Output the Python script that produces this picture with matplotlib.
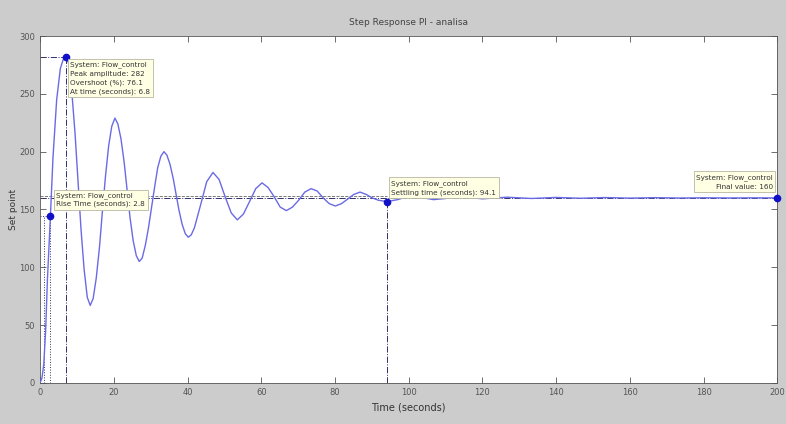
import matplotlib
matplotlib.use("Agg")
import matplotlib.pyplot as plt

# step response (time in s, output value)
t_vals = [0, 0.5, 1.0, 1.5, 2.0, 2.8, 3.5, 4.5, 5.5, 6.3, 7.0,
          7.8, 8.65, 9.5, 10.3, 11.1, 11.95, 12.8, 13.6,
          14.4, 15.25, 16.1, 16.9, 17.75, 18.6, 19.45, 20.3,
          21.1, 21.95, 22.8, 23.6, 24.4, 25.25, 26.1, 26.9,
          27.7, 28.55, 29.4, 30.25, 31.1, 31.9, 32.75, 33.6,
          34.4, 35.25, 36.1, 36.9, 37.7, 38.55, 39.4, 40.2,
          41.0, 41.85, 43.55, 45.2, 46.9,
          48.55, 50.2, 51.85, 53.5, 55.15, 56.85, 58.5, 60.2,
          61.85, 63.5, 65.15, 66.8, 68.45, 70.15, 71.8, 73.5,
          75.15, 76.8, 78.45, 80.1, 81.75, 83.45, 85.1, 86.8,
          88.45, 90.1, 91.75, 94.1, 97.0, 100.0, 103.3, 106.7,
          110.0, 113.3, 116.6, 120.0, 126.6, 133.3, 140.0, 146.6,
          153.3, 160.0, 166.6, 173.3, 180.0, 186.6, 193.3, 200.0]
y_vals = [0, 4, 16, 45, 90, 144, 195, 245, 272, 280, 282,
          276, 250, 215, 174, 133, 98, 74, 67,
          73, 91, 117, 148, 179, 205, 222, 229,
          224, 211, 191, 167, 143, 123, 110, 105,
          108, 119, 134, 152, 170, 186, 196, 200,
          197, 189, 177, 163, 149, 137, 129, 126,
          128, 134, 154, 174, 182,
          176, 161, 147, 141, 146, 157, 168, 173,
          169, 161, 152, 149, 152, 158, 165, 168,
          166, 160, 155, 153, 155, 159, 163, 165,
          163, 160, 158, 156.8, 158.5, 161.5, 160.5, 158.5,
          159.5, 161, 160.3, 159.2, 160.6, 159.5, 160.4, 159.7,
          160.3, 159.8, 160.2, 159.9, 160.1, 159.95, 160.05, 160]

# step response characteristics
peak_t, peak_y = 7.0, 282
rise_t, rise_y = 2.8, 144
rise_start_t = 1.0
settle_t, settle_y = 94.1, 156.8
final_t, final_y = 200, 160

x_ticks = [0, 20, 40, 60, 80, 100, 120, 140, 160, 180, 200]
y_ticks = [0, 50, 100, 150, 200, 250, 300]

fig = plt.figure(figsize=(7.86, 4.24), dpi=100, facecolor="#cccccc")
ax = fig.add_axes([0.051, 0.097, 0.938, 0.818])
ax.set_facecolor("white")

line_c = "#6a6ae6"
ref_c = "#30306a"
ax.plot(t_vals, y_vals, color=line_c, lw=1.0, zorder=3)

# characteristic guide lines
ax.plot([0, 200], [final_y, final_y], color=ref_c, lw=0.7, ls="-.", zorder=2)
ax.plot([0, settle_t], [final_y + 2, final_y + 2], color="#666666", lw=0.6, ls="--", zorder=2)
ax.plot([0, peak_t], [peak_y, peak_y], color=ref_c, lw=0.7, ls="-.", zorder=2)
ax.plot([peak_t, peak_t], [0, peak_y], color=ref_c, lw=0.7, ls="-.", zorder=2)
ax.plot([rise_t, rise_t], [0, rise_y], color=ref_c, lw=0.7, ls=":", zorder=2)
ax.plot([rise_start_t, rise_start_t], [0, rise_y], color=ref_c, lw=0.7, ls=":", zorder=2)
ax.plot([0, rise_t], [rise_y, rise_y], color=ref_c, lw=0.7, ls=":", zorder=2)
ax.plot([settle_t, settle_t], [0, settle_y], color=ref_c, lw=0.7, ls="-.", zorder=2)

ax.plot([peak_t, rise_t, settle_t, final_t], [peak_y, rise_y, settle_y, final_y],
        "o", color="#1010c8", ms=4.5, zorder=5, clip_on=False)

box = dict(boxstyle="square,pad=0.35", fc="#ffffe4", ec="#b8b8a0", lw=0.6)
tip_fs = 5.2
ax.text(peak_t + 1.2, peak_y - 4,
        "System: Flow_control\nPeak amplitude: 282\nOvershoot (%): 76.1\nAt time (seconds): 6.8",
        fontsize=tip_fs, va="top", ha="left", bbox=box, color="#333333",
        linespacing=1.5, zorder=6)
ax.text(rise_t + 1.6, rise_y + 8,
        "System: Flow_control\nRise Time (seconds): 2.8",
        fontsize=tip_fs, va="bottom", ha="left", bbox=box, color="#333333",
        linespacing=1.3, zorder=6)
ax.text(settle_t + 1.2, settle_y + 5,
        "System: Flow_control\nSettling time (seconds): 94.1",
        fontsize=tip_fs, va="bottom", ha="left", bbox=box, color="#333333",
        linespacing=1.5, zorder=6)
ax.text(final_t - 1.2, final_y + 7,
        "System: Flow_control\nFinal value: 160",
        fontsize=tip_fs, va="bottom", ha="right", bbox=box, color="#333333",
        linespacing=1.5, zorder=6)

ax.set_xlim(0, 200)
ax.set_ylim(0, 300)
ax.set_xticks(x_ticks)
ax.set_yticks(y_ticks)
ax.tick_params(direction="in", top=True, right=True, labelsize=6,
               labelcolor="#555555", color="#555555", length=4, width=0.6)
for s in ax.spines.values():
    s.set_color("#555555")
    s.set_linewidth(0.6)

ax.set_title("Step Response PI - analisa", fontsize=6.5, color="#444444", pad=8)
ax.set_xlabel("Time (seconds)", fontsize=7, color="#333333", labelpad=4)
ax.set_ylabel("Set point", fontsize=6.5, color="#333333", labelpad=1)

fig.savefig("out.png", dpi=100, facecolor=fig.get_facecolor())
